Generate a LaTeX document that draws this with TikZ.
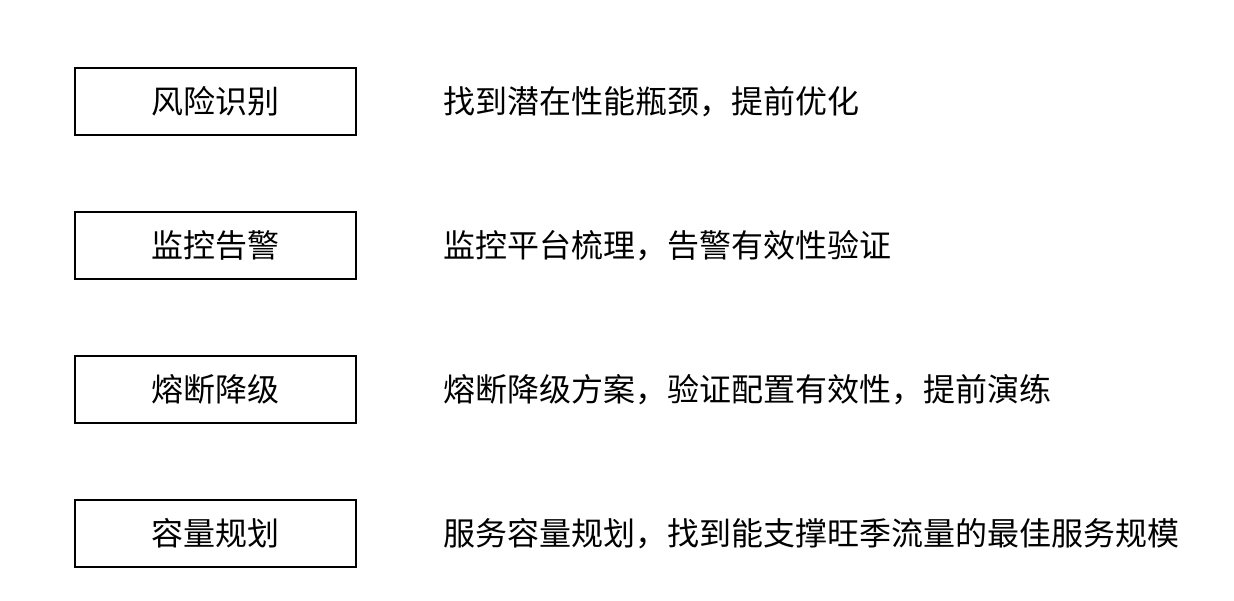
\documentclass[tikz,border=0pt]{standalone}
\usepackage{fontspec}
\newfontfamily\cjk{Noto Sans CJK SC}
\usepackage{xcolor}
\usetikzlibrary{positioning}

\begin{document}
\begin{tikzpicture}[x=0.5pt, y=-0.5pt, font=\cjk\fontsize{16}{19}\selectfont]
        \useasboundingbox (0,0) rectangle (1234,600);
        \tikzset{
            itembox/.style={draw=black, line width=0.65pt, minimum width=140.5pt,
                minimum height=33.5pt, inner sep=0pt},
            itemdesc/.style={anchor=west, inner sep=0pt}
        }
        \def\dy{144}
        \foreach \i/\name/\desc in {
            0/风险识别/找到潜在性能瓶颈，提前优化,
            1/监控告警/监控平台梳理，告警有效性验证,
            2/熔断降级/熔断降级方案，验证配置有效性，提前演练,
            3/容量规划/服务容量规划，找到能支撑旺季流量的最佳服务规模} {
            \node[itembox] (box\i) at (215.5, 101.5+\i*\dy) {\name};
            \node[itemdesc] (desc\i) at (443, 101.5+\i*\dy) {\desc};
        }
    \end{tikzpicture}
\end{document}
